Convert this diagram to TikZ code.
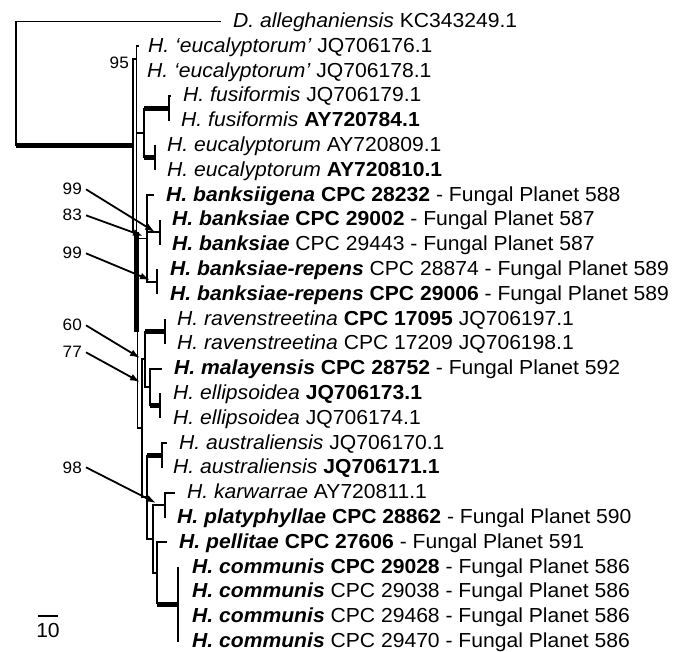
\documentclass[tikz,border=0pt]{standalone}
\usepackage{fontspec}
\setmainfont{Liberation Sans}[FakeStretch=1.04]
\usetikzlibrary{arrows.meta}
\begin{document}
\begin{tikzpicture}[x=1pt,y=-1pt]
\tikzset{
 br/.style={draw=black, line width=1.9pt},
 thk/.style={draw=black, line width=5pt},
 tx/.style={anchor=base west, inner sep=0pt, font=\fontsize{20.3}{22}\selectfont},
 bs/.style={anchor=base east, inner sep=0pt, font=\fontsize{16.5}{18}\selectfont},
 arr/.style={draw=black, line width=1.8pt, -{Latex[length=10pt,width=7pt]}},
}
\useasboundingbox (0,0) rectangle (686,652);
% ---- leaf labels ----
\node[tx] (L0) at (233,27.5) {\textit{D. alleghaniensis} KC343249.1};
\node[tx] (L1) at (148,52.3) {\textit{H. ‘eucalyptorum’} JQ706176.1};
\node[tx] (L2) at (147,77.1) {\textit{H. ‘eucalyptorum’} JQ706178.1};
\node[tx] (L3) at (183,101.9) {\textit{H. fusiformis} JQ706179.1};
\node[tx] (L4) at (181,126.7) {\textit{H. fusiformis} \textbf{AY720784.1}};
\node[tx] (L5) at (167,151.5) {\textit{H. eucalyptorum} AY720809.1};
\node[tx] (L6) at (167,176.3) {\textit{H. eucalyptorum} \textbf{AY720810.1}};
\node[tx] (L7) at (166,201.1) {\textbf{\textit{H. banksiigena} CPC 28232} - Fungal Planet 588};
\node[tx] (L8) at (172,225.9) {\textbf{\textit{H. banksiae} CPC 29002} - Fungal Planet 587};
\node[tx] (L9) at (172,250.7) {\textbf{\textit{H. banksiae}} CPC 29443 - Fungal Planet 587};
\node[tx] (L10) at (170,275.5) {\textbf{\textit{H. banksiae-repens}} CPC 28874 - Fungal Planet 589};
\node[tx] (L11) at (170,300.3) {\textbf{\textit{H. banksiae-repens} CPC 29006} - Fungal Planet 589};
\node[tx] (L12) at (177,325.1) {\textit{H. ravenstreetina} \textbf{CPC 17095} JQ706197.1};
\node[tx] (L13) at (177,349.9) {\textit{H. ravenstreetina} CPC 17209 JQ706198.1};
\node[tx] (L14) at (174,374.7) {\textbf{\textit{H. malayensis} CPC 28752} - Fungal Planet 592};
\node[tx] (L15) at (173,399.5) {\textit{H. ellipsoidea} \textbf{JQ706173.1}};
\node[tx] (L16) at (173,424.3) {\textit{H. ellipsoidea} JQ706174.1};
\node[tx] (L17) at (179,449.1) {\textit{H. australiensis} JQ706170.1};
\node[tx] (L18) at (173,473.9) {\textit{H. australiensis} \textbf{JQ706171.1}};
\node[tx] (L19) at (187,498.7) {\textit{H. karwarrae} AY720811.1};
\node[tx] (L20) at (177,523.5) {\textbf{\textit{H. platyphyllae} CPC 28862} - Fungal Planet 590};
\node[tx] (L21) at (179,548.3) {\textbf{\textit{H. pellitae} CPC 27606} - Fungal Planet 591};
\node[tx] (L22) at (192,573.1) {\textbf{\textit{H. communis} CPC 29028} - Fungal Planet 586};
\node[tx] (L23) at (192,597.9) {\textbf{\textit{H. communis}} CPC 29038 - Fungal Planet 586};
\node[tx] (L24) at (192,622.7) {\textbf{\textit{H. communis}} CPC 29468 - Fungal Planet 586};
\node[tx] (L25) at (192,647.5) {\textbf{\textit{H. communis}} CPC 29470 - Fungal Planet 586};
% ---- tips ----
\coordinate (t0) at (221,21.5);
\coordinate (t1) at (139,46.3);
\coordinate (t2) at (136.5,71.1);
\coordinate (t3) at (171,95.9);
\coordinate (t4) at (169,120.7);
\coordinate (t5) at (155,145.5);
\coordinate (t6) at (155,170.3);
\coordinate (t7) at (154,195.1);
\coordinate (t8) at (160,219.9);
\coordinate (t9) at (160,244.7);
\coordinate (t10) at (158,269.5);
\coordinate (t11) at (157,294.3);
\coordinate (t12) at (165,319.1);
\coordinate (t13) at (165,343.9);
\coordinate (t14) at (162,368.7);
\coordinate (t15) at (161,393.5);
\coordinate (t16) at (160,418.3);
\coordinate (t17) at (167,443.1);
\coordinate (t18) at (162,467.9);
\coordinate (t19) at (175,492.7);
\coordinate (t20) at (165,517.5);
\coordinate (t21) at (167,542.3);
\coordinate (t22) at (178,567.1);
\coordinate (t23) at (178,591.9);
\coordinate (t24) at (178,616.7);
\coordinate (t25) at (178,641.5);
% ---- internal nodes ----
\coordinate (R) at (16,146);
\coordinate (A) at (133,146);
\coordinate (E1) at (136.5,58.7);
\coordinate (B) at (136.5,232.4);
\coordinate (F) at (144,133.1);
\coordinate (fus) at (169,108.3);
\coordinate (euc) at (155,157.9);
\coordinate (O) at (137.5,331.7);
\coordinate (BK) at (147,238.5);
\coordinate (bsub) at (160,232.3);
\coordinate (rep) at (157,281.9);
\coordinate (P) at (141.7,428.4);
\coordinate (RM) at (145,359.4);
\coordinate (rav) at (165,331.5);
\coordinate (M) at (150,387.3);
\coordinate (ell) at (160,405.9);
\coordinate (Z) at (147,497.4);
\coordinate (aus) at (162,455.5);
\coordinate (W) at (153,539.2);
\coordinate (K) at (165,505.1);
\coordinate (X) at (157,573.3);
\coordinate (com) at (178,604.3);
% ---- branches ----
\draw[br] (R) |- (t0);
\draw[thk] (R) -- (A);
\draw[br] (A) |- (E1);
\draw[br] (A) |- (B);
\draw[br] (E1) |- (t1);
\draw[br] (E1) |- (t2);
\draw[br] (t2) -- (B |- F);
\draw[br] (B) |- (F);
\draw[thk] (B) -- (B |- O);
\draw[br] (B |- O) -- (O);
\draw[br] (F) -- (F |- fus);
\draw[thk] (F |- fus) -- (fus);
\draw[br] (F) -- (F |- euc);
\draw[thk] (F |- euc) -- (euc);
\draw[br] (fus) |- (t3);
\draw[br] (fus) |- (t4);
\draw[br] (euc) |- (t5);
\draw[br] (euc) |- (t6);
\draw[br] (O) |- (BK);
\draw[br] (O) |- (P);
\draw[br] (BK) |- (t7);
\draw[br] (BK) |- (bsub);
\draw[br] (BK) |- (rep);
\draw[br] (bsub) |- (t8);
\draw[br] (bsub) |- (t9);
\draw[br] (rep) |- (t10);
\draw[br] (rep) |- (t11);
\draw[br] (P) |- (RM);
\draw[br] (P) |- (Z);
\draw[br] (RM) -- (RM |- rav);
\draw[thk] (RM |- rav) -- (rav);
\draw[br] (RM) |- (M);
\draw[br] (rav) |- (t12);
\draw[br] (rav) |- (t13);
\draw[br] (M) |- (t14);
\draw[br] (M) -- (M |- ell);
\draw[thk] (M |- ell) -- (ell);
\draw[br] (ell) |- (t15);
\draw[br] (ell) |- (t16);
\draw[br] (Z) -- (Z |- aus);
\draw[thk] (Z |- aus) -- (aus);
\draw[br] (Z) |- (W);
\draw[br] (aus) |- (t17);
\draw[br] (aus) |- (t18);
\draw[br] (W) |- (K);
\draw[br] (W) |- (X);
\draw[br] (K) |- (t19);
\draw[br] (K) |- (t20);
\draw[br] (X) |- (t21);
\draw[br] (X) -- (X |- com);
\draw[thk] (X |- com) -- (com);
\draw[br] (com) |- (t22);
\draw[br] (com) |- (t23);
\draw[br] (com) |- (t24);
\draw[br] (com) |- (t25);
% ---- support values ----
\node[bs] (b95) at (129,69) {95};
\node[bs] (b1) at (82,195) {99};
\node[bs] (b2) at (82,221) {83};
\node[bs] (b3) at (82,259) {99};
\node[bs] (b4) at (82,331) {60};
\node[bs] (b5) at (82,358) {77};
\node[bs] (b6) at (82,473) {98};
\coordinate (a1) at (155,232);
\coordinate (a2) at (143,236);
\coordinate (a3) at (150,280);
\coordinate (a4) at (140,358);
\coordinate (a5) at (140,382);
\coordinate (a6) at (156,503);
\draw[arr] ([xshift=4pt]b1.east) -- (a1);
\draw[arr] ([xshift=4pt]b2.east) -- (a2);
\draw[arr] ([xshift=4pt]b3.east) -- (a3);
\draw[arr] ([xshift=4pt]b4.east) -- (a4);
\draw[arr] ([xshift=4pt]b5.east) -- (a5);
\draw[arr] ([xshift=4pt]b6.east) -- (a6);
% ---- scale bar ----
\node[anchor=base, inner sep=0pt, font=\fontsize{20.3}{22}\selectfont] (sc) at (48,637) {10};
\coordinate (s1) at (38,616);
\coordinate (s2) at (58,616);
\draw[br] (s1) -- (s2);
\end{tikzpicture}
\end{document}
